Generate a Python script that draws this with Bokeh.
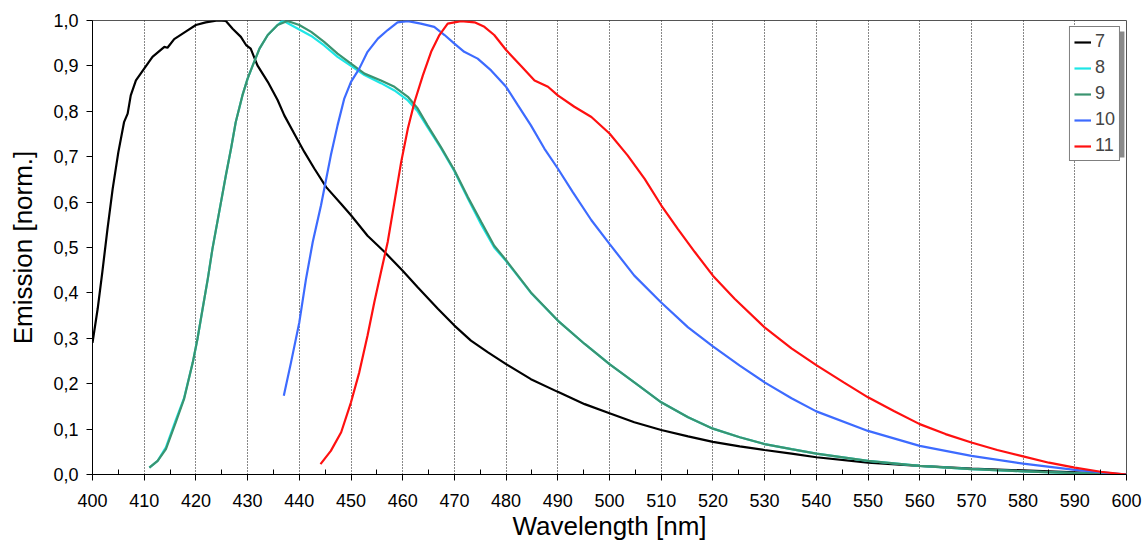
from bokeh.plotting import figure
from bokeh.models import Range1d, FixedTicker, Legend, LegendItem, BoxAnnotation
from bokeh.embed import file_html
from bokeh.resources import INLINE

# ---- data ----
x_ticks = [400, 410, 420, 430, 440, 450, 460, 470, 480, 490, 500, 510, 520,
           530, 540, 550, 560, 570, 580, 590, 600]
x_minor = [405, 415, 425, 435, 445, 455, 465, 475, 485, 495, 505, 515, 525,
           535, 545, 555, 565, 575, 585, 595]
y_ticks = [0.0, 0.1, 0.2, 0.3, 0.4, 0.5, 0.6, 0.7, 0.8, 0.9, 1.0]
y_tick_labels = ["0,0", "0,1", "0,2", "0,3", "0,4", "0,5", "0,6", "0,7",
                 "0,8", "0,9", "1,0"]

series_names = ["7", "8", "9", "10", "11"]

wl7 = [400, 401, 401.9, 402.9, 403.9, 405, 406.1, 406.8, 407.4, 408.4, 410,
       411.6, 413.9, 414.5, 415.8, 418.1, 420, 421.9, 424.2, 425.8, 427.1,
       428.7, 429.7, 430.6, 431.9, 433.9, 435.8, 437.1, 439.4, 441, 442.9,
       445.2, 448.1, 450, 453.2, 456.5, 460, 462.9, 466.8, 470, 473.2, 476.5,
       480, 484.8, 490, 495.2, 500, 504.8, 510, 515.2, 520, 525.2, 530, 535.2,
       540, 550, 560, 570, 580, 590, 600]
em7 = [0.29, 0.365, 0.446, 0.541, 0.629, 0.71, 0.776, 0.795, 0.835, 0.868,
       0.894, 0.92, 0.942, 0.94, 0.959, 0.976, 0.99, 0.996, 1.0, 0.999, 0.982,
       0.964, 0.946, 0.938, 0.901, 0.865, 0.825, 0.791, 0.743, 0.71, 0.674,
       0.633, 0.596, 0.571, 0.526, 0.49, 0.449, 0.4125, 0.365, 0.328, 0.295,
       0.269, 0.243, 0.21, 0.182, 0.155, 0.135, 0.115, 0.098, 0.084, 0.072,
       0.062, 0.054, 0.046, 0.038, 0.026, 0.019, 0.013, 0.009, 0.0045, 0.0]

wl8 = [411, 412.6, 414.2, 416.1, 417.7, 419.4, 420.3, 421.3, 422.3, 423.2,
       424.5, 425.8, 426.8, 427.7, 429, 430, 431, 432.3, 433.9, 435.8, 436.8,
       440, 442.3, 444.8, 447.4, 450, 452.6, 455.8, 458.4, 461, 462.9, 464.8,
       467.4, 470, 472.6, 475.2, 477.7, 480, 484.8, 490, 495.2, 500, 504.8,
       510, 515.2, 520, 525.2, 530, 535.2, 540, 550, 560, 570, 580, 590, 600]
em8 = [0.015, 0.03, 0.06, 0.12, 0.168, 0.247, 0.2985, 0.365, 0.431, 0.497,
       0.578, 0.659, 0.718, 0.776, 0.835, 0.872, 0.901, 0.938, 0.968, 0.99,
       1.0, 0.98, 0.966, 0.945, 0.92, 0.9, 0.88, 0.862, 0.846, 0.824, 0.8,
       0.765, 0.719, 0.668, 0.608, 0.55, 0.5, 0.47, 0.4, 0.339, 0.2875, 0.243,
       0.203, 0.159, 0.126, 0.101, 0.082, 0.067, 0.056, 0.046, 0.030, 0.019,
       0.012, 0.007, 0.003, 0.0]

wl9 = [411, 412.6, 414.2, 416.1, 417.7, 419.4, 420.3, 421.3, 422.3, 423.2,
       424.5, 425.8, 426.8, 427.7, 429, 430, 431, 432.3, 433.9, 435.8, 437.7,
       440, 442.3, 444.8, 447.4, 450, 452.6, 455.8, 458.4, 461, 462.9, 464.8,
       467.4, 470, 472.6, 475.2, 477.7, 480, 484.8, 490, 495.2, 500, 504.8,
       510, 515.2, 520, 525.2, 530, 535.2, 540, 550, 560, 570, 580, 590, 600]
em9 = [0.015, 0.03, 0.056, 0.115, 0.166, 0.247, 0.2985, 0.365, 0.431, 0.497,
       0.578, 0.659, 0.718, 0.776, 0.835, 0.872, 0.901, 0.938, 0.968, 0.99,
       0.999, 0.99, 0.975, 0.953, 0.927, 0.905, 0.883, 0.868, 0.854, 0.832,
       0.806, 0.769, 0.721, 0.67, 0.611, 0.556, 0.504, 0.472, 0.401, 0.339,
       0.2875, 0.243, 0.203, 0.159, 0.126, 0.101, 0.082, 0.067, 0.056, 0.046,
       0.030, 0.019, 0.012, 0.007, 0.003, 0.0]

wl10 = [437, 438.4, 440, 441.3, 442.6, 444.2, 445.2, 446.1, 447.4, 448.7, 450,
        451.6, 453.2, 455.2, 457.1, 459, 461, 463.5, 466.1, 468.1, 470, 471.9,
        474.5, 477.1, 480, 482.3, 484.8, 487.4, 490, 492.9, 496.5, 500, 504.8,
        510, 515.2, 520, 525.2, 530, 535.2, 540, 550, 560, 570, 580, 590, 600]
em10 = [0.1735, 0.247, 0.335, 0.431, 0.512, 0.593, 0.651, 0.703, 0.769, 0.828,
        0.865, 0.894, 0.931, 0.96, 0.979, 0.996, 0.9985, 0.993, 0.986, 0.968,
        0.949, 0.931, 0.916, 0.89, 0.854, 0.813, 0.769, 0.718, 0.674, 0.622,
        0.56, 0.508, 0.438, 0.379, 0.324, 0.282, 0.24, 0.203, 0.168, 0.139,
        0.096, 0.063, 0.041, 0.024, 0.010, 0.0]

wl11 = [444.1, 446.1, 448.1, 450, 451.6, 453.2, 454.5, 455.8, 457.1, 458.4,
        459.7, 461, 462.3, 463.9, 465.5, 467.1, 468.7, 471.3, 473.9, 475.8,
        477.7, 480, 482.9, 485.5, 488.1, 490, 493.2, 496.5, 500, 503.5, 506.8,
        510, 513.2, 516.5, 520, 524.2, 530, 535.2, 540, 545.3, 550, 555, 560,
        565, 570, 575, 580, 585, 590, 595, 600]
em11 = [0.023, 0.052, 0.093, 0.159, 0.225, 0.306, 0.379, 0.446, 0.512, 0.6,
        0.688, 0.762, 0.821, 0.879, 0.931, 0.968, 0.993, 0.9985, 0.996, 0.986,
        0.968, 0.935, 0.9, 0.868, 0.854, 0.835, 0.81, 0.7875, 0.751, 0.703,
        0.651, 0.593, 0.541, 0.49, 0.438, 0.387, 0.324, 0.278, 0.241, 0.203,
        0.17, 0.14, 0.111, 0.089, 0.0706, 0.054, 0.04, 0.026, 0.015, 0.006, 0.0]

colors = ["#000000", "#1ee6e6", "#3a9470", "#3d6bff", "#ff1010"]

FONT = "Liberation Sans"

p = figure(width=1143, height=543, output_backend="svg", toolbar_location=None,
           x_range=Range1d(400, 600), y_range=Range1d(0, 1.0),
           min_border_left=92, min_border_right=17, min_border_top=20,
           min_border_bottom=69)
p.background_fill_color = "white"
p.border_fill_color = "white"
p.outline_line_color = "#555555"
p.outline_line_width = 1

series = [(wl7, em7), (wl8, em8), (wl9, em9), (wl10, em10), (wl11, em11)]
renderers = []
for (xs, ys), c in zip(series, colors):
    r = p.line(xs, ys, line_color=c, line_width=2.2)
    renderers.append(r)

# x axis
xa = p.xaxis[0]
xa.ticker = FixedTicker(ticks=x_ticks, minor_ticks=x_minor)
xa.major_tick_out = 6
xa.major_tick_in = 0
xa.minor_tick_in = 5
xa.minor_tick_out = 0
xa.axis_line_color = "black"
xa.major_tick_line_color = "black"
xa.minor_tick_line_color = "black"
xa.major_label_text_font = FONT
xa.major_label_text_font_size = "18px"
xa.major_label_text_color = "black"
xa.major_label_standoff = 13
xa.axis_label = "Wavelength [nm]"
xa.axis_label_text_font = FONT
xa.axis_label_text_font_size = "26px"
xa.axis_label_text_font_style = "normal"
xa.axis_label_text_color = "black"
xa.axis_label_standoff = 1

# y axis
ya = p.yaxis[0]
ya.ticker = FixedTicker(ticks=y_ticks)
ya.major_label_overrides = {t: s for t, s in zip(y_ticks, y_tick_labels)}
ya.major_tick_out = 6
ya.major_tick_in = 0
ya.minor_tick_line_color = None
ya.axis_line_color = "black"
ya.major_tick_line_color = "black"
ya.major_label_text_font = FONT
ya.major_label_text_font_size = "18px"
ya.major_label_text_color = "black"
ya.major_label_standoff = 8
ya.axis_label = "Emission [norm.]"
ya.axis_label_text_font = FONT
ya.axis_label_text_font_size = "26px"
ya.axis_label_text_font_style = "normal"
ya.axis_label_text_color = "black"
ya.axis_label_standoff = 12

# grid
p.xgrid.grid_line_color = "#111111"
p.xgrid.grid_line_dash = "1 2"
p.xgrid.grid_line_width = 1
p.ygrid.grid_line_color = None

# legend drop shadow (decoration behind the legend box)
shadow = BoxAnnotation(left=589.6, right=599.6, top=0.976, bottom=0.698,
                       fill_color="#8a8a8a", fill_alpha=1.0, line_color=None)
p.add_layout(shadow)

legend = Legend(items=[LegendItem(label=n, renderers=[r])
                       for n, r in zip(series_names, renderers)],
                location="top_right")
legend.margin = 6
legend.padding = 4
legend.spacing = 5
legend.glyph_width = 17
legend.glyph_height = 20
legend.label_height = 20
legend.label_standoff = 4
legend.label_text_font = FONT
legend.label_text_font_size = "18px"
legend.border_line_color = "black"
legend.border_line_width = 1
legend.background_fill_color = "white"
legend.background_fill_alpha = 1.0
p.add_layout(legend)

open("out.html", "w").write(file_html(p, INLINE))
